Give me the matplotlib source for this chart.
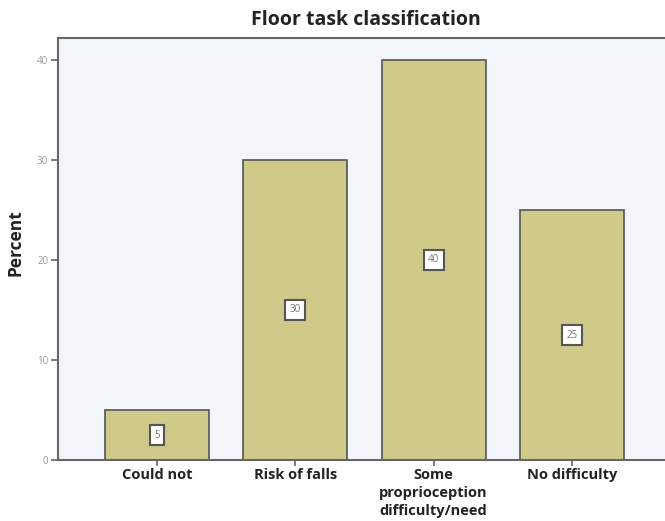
import numpy as np
import matplotlib.pyplot as plt

categories = ['Could not', 'Risk of falls', 'Some\nproprioception\ndifficulty/need', 'No difficulty']
percents = [5, 30, 40, 25]
y_ticks = [0, 10, 20, 30, 40]

plt.rcParams['font.family'] = ['Open Sans', 'DejaVu Sans']

fig = plt.figure(figsize=(6.65, 5.21), dpi=100)
ax = fig.add_axes([58 / 665, 61 / 521, 613 / 665, 422 / 521])
ax.set_facecolor('#f3f6fa')

x = np.arange(len(categories))
ax.bar(x, percents, width=0.75, color='#cfc98a', edgecolor='#555555', linewidth=1.2, zorder=2)

# value boxes in the middle of each bar
for xi, v in zip(x, percents):
    ax.text(xi, v / 2, str(v), ha='center', va='center', fontsize=7, color='#777777', zorder=3,
            bbox=dict(boxstyle='square,pad=0.45', fc='white', ec='#555555', lw=1.5))

ax.set_xlim(-0.715, 3.715)
ax.set_ylim(0, 42.2)
ax.set_yticks(y_ticks)
ax.set_yticklabels([str(t) for t in y_ticks], fontsize=7, color='#999999')
ax.set_xticks(x)
ax.set_xticklabels(categories, fontsize=10.5, fontweight='bold', color='#222222', linespacing=1.35)
ax.tick_params(axis='y', length=5, color='#666666', width=1.2, pad=2)
ax.tick_params(axis='x', length=4, color='#666666', width=1.2, pad=2)
for s in ['left', 'bottom', 'top']:
    ax.spines[s].set_color('#666666')
    ax.spines[s].set_linewidth(1.5)
ax.spines['right'].set_visible(False)

ax.set_ylabel('Percent', fontsize=12.5, fontweight='bold', color='#222222')
ax.yaxis.set_label_coords(-0.054, 0.515)
fig.text(366 / 665, 1 - 20 / 521, 'Floor task classification', ha='center', va='center',
         fontsize=14, fontweight='bold', color='#222222')

fig.savefig('out.png', dpi=100)
